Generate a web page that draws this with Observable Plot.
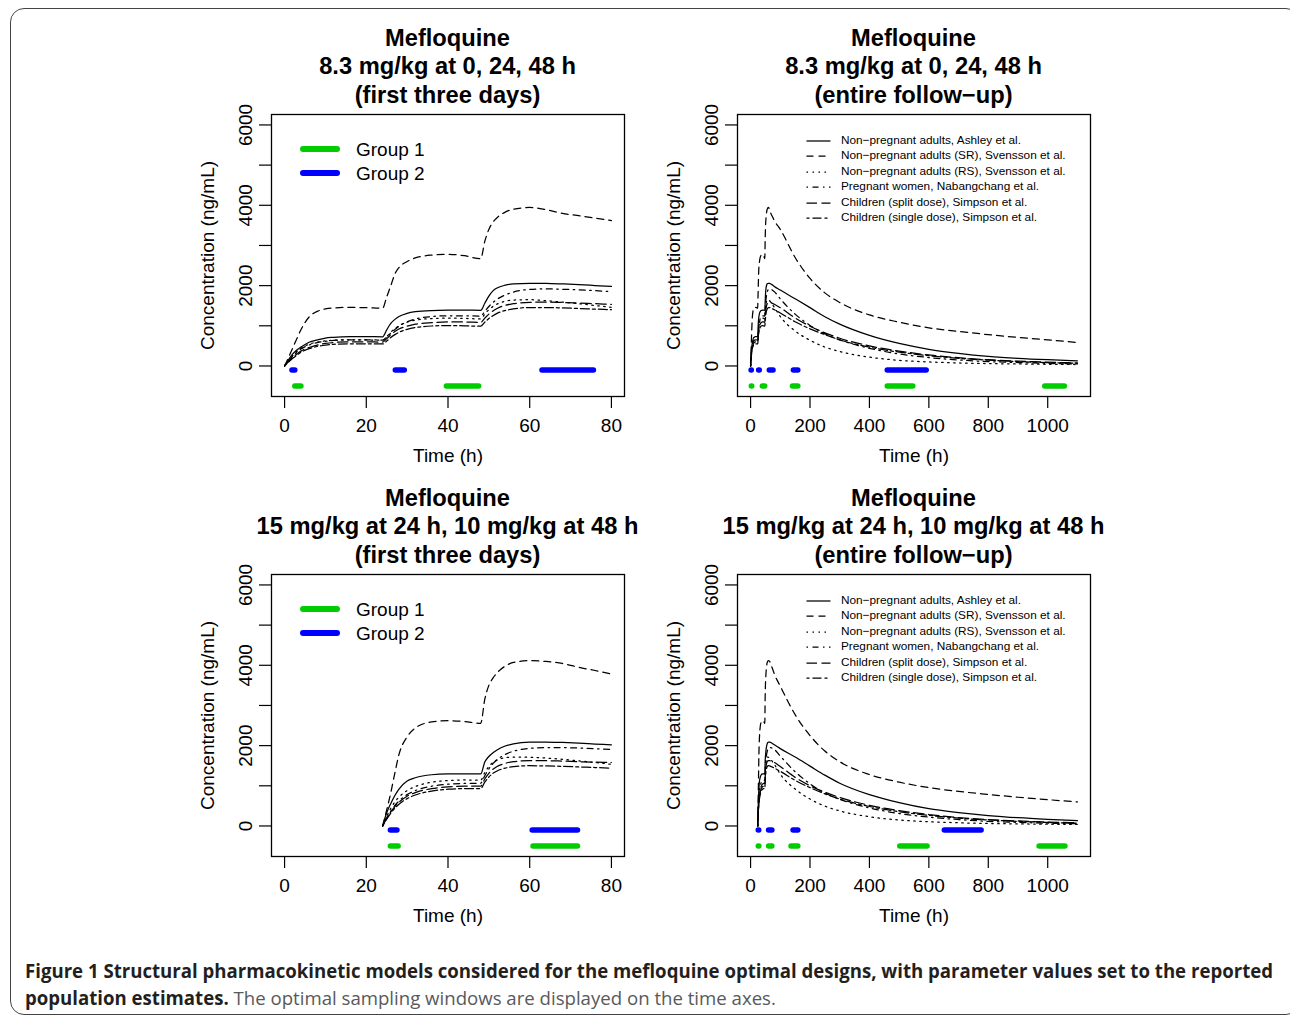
<!DOCTYPE html>
<html><head><meta charset="utf-8">
<script src="https://cdn.jsdelivr.net/npm/d3@7"></script>
<script src="https://cdn.jsdelivr.net/npm/@observablehq/plot@0.6"></script>
<style>
html,body{margin:0;padding:0;background:#fff;}
#page{position:relative;width:1290px;height:1017px;overflow:hidden;font-family:"Liberation Sans",Arial,Helvetica,sans-serif;color:#000;}
#border{position:absolute;left:10px;top:8px;width:1290px;height:1007px;border:1.5px solid #444;border-radius:14px;box-sizing:border-box;}
.title{position:absolute;font-weight:bold;font-size:23.7px;text-align:center;white-space:nowrap;transform:translate(-50%,-50%);line-height:1;}
.panel{position:absolute;}
.leg{position:absolute;white-space:nowrap;line-height:1;transform:translateY(-50%);}
.cap{position:absolute;left:25px;white-space:nowrap;font-family:"Open Sans",sans-serif;font-size:19px;line-height:1;transform-origin:0 50%;color:#231f20;}
.cap .norm{font-weight:normal;color:#58595b;}
</style></head><body><div id="page"><div id="border"></div></div>
<script>
// ---------- DATA ----------
const models = [
  "Non\u2212pregnant adults, Ashley et al.",
  "Non\u2212pregnant adults (SR), Svensson et al.",
  "Non\u2212pregnant adults (RS), Svensson et al.",
  "Pregnant women, Nabangchang et al.",
  "Children (split dose), Simpson et al.",
  "Children (single dose), Simpson et al."
];
const groups = ["Group 1", "Group 2"];

// Regimen A: 8.3 mg/kg at 0, 24, 48 h
const tA = [0,1,2,3,4,6,8,10,12,16,20,24, 25,26,27,28,30,32,36,40,44,48, 49,50,51,52,54,56,60,64,68,72,76,80, 100,150,200,250,300,400,500,600,700,800,900,1000,1100];
const ashleyA = [0,160,300,400,470,590,650,695,712,728,730,725, 900,1060,1160,1230,1310,1350,1380,1388,1390,1385, 1560,1740,1870,1940,2010,2045,2058,2055,2042,2025,2003,1980, 1890,1672,1452,1225,1040,760,560,415,315,240,190,155,128];
const svSRA  = [0,220,450,680,900,1220,1360,1420,1445,1458,1452,1440, 1720,2000,2290,2450,2600,2690,2760,2780,2745,2670, 3100,3400,3580,3690,3830,3900,3945,3890,3800,3740,3680,3620, 3400,2700,2180,1820,1580,1270,1090,950,860,780,710,650,585];
const svRSA  = [0,140,260,360,440,540,595,625,640,650,648,640, 730,840,930,1000,1090,1140,1180,1190,1185,1170, 1290,1400,1480,1540,1610,1640,1650,1625,1590,1550,1505,1460, 1230,870,640,470,360,220,140,100,75,60,50,42,36];
const pregA  = [0,120,240,340,420,520,580,615,635,650,650,645, 720,820,910,990,1100,1170,1230,1250,1250,1240, 1360,1480,1580,1660,1770,1840,1905,1918,1910,1895,1875,1850, 1670,1290,1010,800,650,440,300,210,150,110,85,65,50];
const splitA = [0,110,210,300,370,460,520,560,585,600,600,595, 680,780,860,920,990,1040,1080,1095,1095,1085, 1190,1290,1370,1430,1510,1550,1585,1590,1580,1565,1550,1535, 1450,1195,990,825,690,500,370,275,205,155,120,95,75];
const singleA= [0,100,190,270,340,430,485,520,540,552,552,548, 620,710,780,840,910,955,995,1005,1000,990, 1090,1180,1250,1310,1380,1420,1455,1455,1445,1430,1415,1400, 1320,1100,925,780,650,470,345,255,190,145,110,85,65];

// Regimen B: 15 mg/kg at 24 h, 10 mg/kg at 48 h
const tB = [24,25,26,27,28,30,32,36,40,44,48, 49,50,51,52,54,56,60,64,68,72,76,80, 100,150,200,250,300,400,500,600,700,800,900,1000,1100];
const ashleyB = [0,330,560,760,920,1120,1200,1275,1295,1298,1295, 1590,1730,1820,1890,1990,2045,2088,2090,2078,2060,2040,2020, 1925,1715,1490,1265,1065,780,580,430,335,260,205,165,133];
const svSRB  = [0,400,830,1320,1780,2220,2440,2590,2620,2600,2555, 3150,3500,3680,3810,3980,4070,4115,4095,4045,3950,3870,3785, 3480,2770,2250,1865,1600,1280,1090,955,860,785,715,655,600];
const svRSB  = [0,240,440,600,720,880,980,1090,1130,1145,1140, 1330,1480,1580,1640,1700,1715,1710,1690,1660,1620,1580,1535, 1290,920,670,495,375,230,148,106,80,62,52,44,38];
const pregB  = [0,200,370,510,620,780,880,990,1040,1060,1065, 1250,1420,1550,1650,1780,1860,1930,1952,1950,1940,1925,1905, 1740,1350,1050,820,665,450,310,220,160,115,90,70,55];
const splitB = [0,190,350,480,590,740,830,930,975,990,990, 1170,1310,1410,1480,1560,1600,1625,1625,1615,1600,1590,1580, 1480,1210,1000,840,710,515,380,285,210,160,125,98,78];
const singleB= [0,170,320,440,540,680,770,870,915,930,930, 1090,1220,1310,1370,1440,1475,1500,1495,1485,1470,1455,1440, 1360,1135,955,800,670,485,355,265,195,150,115,88,68];

// Optimal sampling windows [start, end] (h)
const winA_group1 = [[2.5,4.0],[39.6,47.5],[141,159],[460,546],[990,1056]];
const winA_group2 = [[1.8,2.5],[27.1,29.3],[63.0,75.6],[144,159],[460,591]];
const winB_group1 = [[25.9,27.8],[60.8,71.7],[136,159],[502,594],[971,1058]];
const winB_group2 = [[25.9,27.5],[60.6,71.7],[143,159],[652,776]];
const groupLevel = {"Group 1": -500, "Group 2": -100};

const yTicks = [0,1000,2000,3000,4000,5000,6000];
const xTicksShort = [0,20,40,60,80];
const xTicksLong = [0,200,400,600,800,1000];

// ---------- STYLE ----------
const dashes = [undefined, "7,5", "1.5,4.5", "1.5,4.5,6,4.5", "10.5,4.5", "3,3,9,3"];
const groupColor = {"Group 1": "#00cd00", "Group 2": "#0000ff"};
const FONT = '"Liberation Sans", Arial, Helvetica, sans-serif';
const page = document.getElementById("page");

function add(tag, cls, css, html) {
  const e = document.createElement(tag);
  if (cls) e.className = cls;
  Object.assign(e.style, css);
  if (html !== undefined) e.innerHTML = html;
  page.appendChild(e);
  return e;
}

function makePanel(o) {
  const marks = [Plot.frame({stroke: "black", strokeWidth: 1.3})];
  o.series.forEach((vals, k) => {
    const data = o.t.map((tt, i) => ({t: tt, c: vals[i]})).filter(d => d.t <= o.tMax);
    marks.push(Plot.line(data, {x: "t", y: "c", stroke: "black", strokeWidth: 1.25,
      strokeDasharray: dashes[k], curve: "monotone-x"}));
  });
  const mk = (wins, g) => wins.map(([a, b]) => ({a, b, level: groupLevel[g]})).filter(d => d.b <= o.xDomain[1]);
  marks.push(Plot.link(mk(o.win2, "Group 2"), {x1: "a", x2: "b", y1: "level", y2: "level",
    stroke: groupColor["Group 2"], strokeWidth: 5.5, strokeLinecap: "round"}));
  marks.push(Plot.link(mk(o.win1, "Group 1"), {x1: "a", x2: "b", y1: "level", y2: "level",
    stroke: groupColor["Group 1"], strokeWidth: 5.5, strokeLinecap: "round"}));
  marks.push(Plot.axisX({ticks: o.xTicks, tickFormat: d => String(d), tickSize: 12, tickPadding: 10, fontSize: 19,
    strokeWidth: 1.2, label: "Time (h)", labelAnchor: "center", labelArrow: "none", labelOffset: 65}));
  marks.push(Plot.axisY({ticks: yTicks, tickFormat: d => (d % 2000 === 0 ? String(d) : ""),
    tickSize: 12, tickPadding: 8, tickRotate: -90, fontSize: 19, strokeWidth: 1.2,
    label: "Concentration (ng/mL)", labelAnchor: "center", labelArrow: "none", labelOffset: 71}));

  const svg = Plot.plot({
    width: 460, height: 370,
    marginLeft: 90, marginRight: 17, marginTop: 4, marginBottom: 84,
    style: {fontFamily: FONT, fontSize: "19px", color: "black", background: "transparent", overflow: "visible"},
    x: {domain: o.xDomain},
    y: {domain: [-760, 6260]},
    marks
  });
  const holder = add("div", "panel", {left: (o.frameLeft - 90) + "px", top: (o.frameTop - 4) + "px"});
  holder.appendChild(svg);

  // titles
  const cx = o.frameLeft + 176.5;
  o.titles.forEach((s, i) => {
    add("div", "title", {left: cx + "px", top: (o.frameTop - 75.5 + i * 28.5) + "px"}, s);
  });

  // legends
  if (o.legend === "groups") {
    groups.forEach((g, i) => {
      const y = o.frameTop + 35 + i * 24;
      add("div", "", {position: "absolute", left: (o.frameLeft + 29) + "px", top: (y - 2.75) + "px",
        width: "40px", height: "5.5px", borderRadius: "3px", background: groupColor[g]});
      add("div", "leg", {left: (o.frameLeft + 85) + "px", top: y + "px", fontSize: "19px"}, g);
    });
  } else {
    models.forEach((m, i) => {
      const y = o.frameTop + 27 + i * 15.4;
      add("div", "leg", {left: (o.frameLeft + 69) + "px", top: y + "px", height: "4px"},
        `<svg width="25" height="4" style="display:block"><line x1="0.5" y1="2" x2="24.5" y2="2" stroke="black" stroke-width="1.25" ${dashes[i] ? `stroke-dasharray="${dashes[i]}"` : ""}/></svg>`);
      add("div", "leg", {left: (o.frameLeft + 104) + "px", top: y + "px", fontSize: "11.8px"}, m);
    });
  }
}

const seriesA = [ashleyA, svSRA, svRSA, pregA, splitA, singleA];
const seriesB = [ashleyB, svSRB, svRSB, pregB, splitB, singleB];
const titleA1 = ["Mefloquine", "8.3 mg/kg at 0, 24, 48 h", "(first three days)"];
const titleA2 = ["Mefloquine", "8.3 mg/kg at 0, 24, 48 h", "(entire follow\u2212up)"];
const titleB1 = ["Mefloquine", "15 mg/kg at 24 h, 10 mg/kg at 48 h", "(first three days)"];
const titleB2 = ["Mefloquine", "15 mg/kg at 24 h, 10 mg/kg at 48 h", "(entire follow\u2212up)"];

makePanel({frameLeft: 271, frameTop: 114, xDomain: [-3.2, 83.2], xTicks: xTicksShort, tMax: 80,
  t: tA, series: seriesA, win1: winA_group1, win2: winA_group2, titles: titleA1, legend: "groups"});
makePanel({frameLeft: 737, frameTop: 114, xDomain: [-44, 1144], xTicks: xTicksLong, tMax: 1100,
  t: tA, series: seriesA, win1: winA_group1, win2: winA_group2, titles: titleA2, legend: "models"});
makePanel({frameLeft: 271, frameTop: 574, xDomain: [-3.2, 83.2], xTicks: xTicksShort, tMax: 80,
  t: tB, series: seriesB, win1: winB_group1, win2: winB_group2, titles: titleB1, legend: "groups"});
makePanel({frameLeft: 737, frameTop: 574, xDomain: [-44, 1144], xTicks: xTicksLong, tMax: 1100,
  t: tB, series: seriesB, win1: winB_group1, win2: winB_group2, titles: titleB2, legend: "models"});

// caption
const c1 = add("div", "cap", {top: "962px"}, "<b>Figure 1 Structural pharmacokinetic models considered for the mefloquine optimal designs, with parameter values set to the reported</b>");
const c2 = add("div", "cap", {top: "989px"}, "<b>population estimates.</b> <span class=\"norm\">The optimal sampling windows are displayed on the time axes.</span>");
const sc = 1248 / c1.getBoundingClientRect().width;
c1.style.transform = `scaleX(${sc})`;
c2.style.transform = `scaleX(${sc})`;
</script></body></html>
